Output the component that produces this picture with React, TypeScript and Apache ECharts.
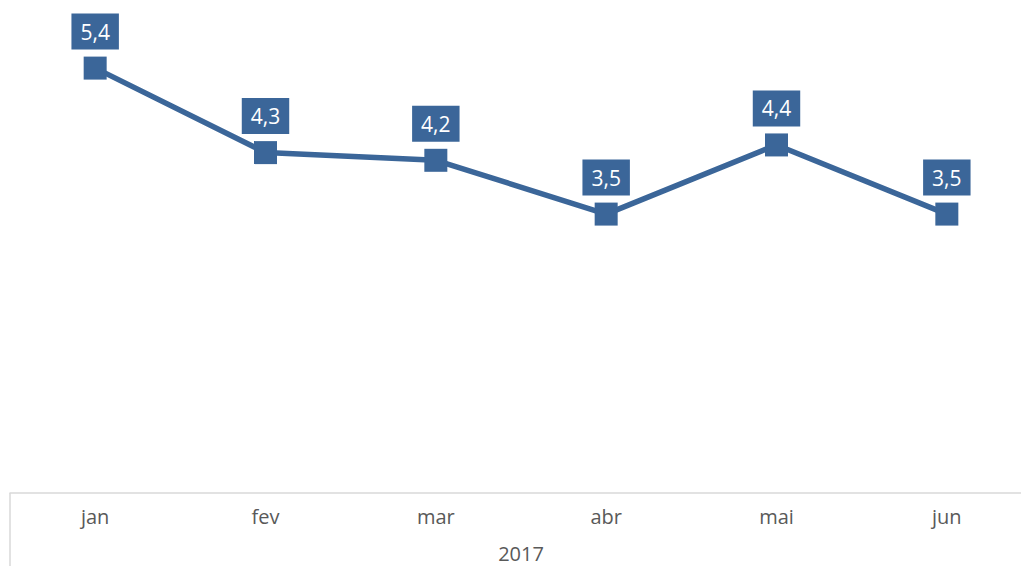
import React, { useEffect, useRef } from "react";
import * as echarts from "echarts";

const months = ["jan", "fev", "mar", "abr", "mai", "jun"];
const yearLabels = ["2017"];
const rates = [5.4, 4.3, 4.2, 3.5, 4.4, 3.5];

const BLUE = "#3B6699";
const FONT = "'Open Sans', 'Noto Sans', sans-serif";

export default function App() {
  const ref = useRef<HTMLDivElement>(null);
  useEffect(() => {
    document.body.style.margin = "0";
    const chart = echarts.init(ref.current!, null, { renderer: "svg" });
    chart.setOption({
      animation: false,
      backgroundColor: "#ffffff",
      grid: { left: 10, top: 22, right: 10, bottom: 73 },
      yAxis: { type: "value", min: -0.13, max: 6, show: false },
      xAxis: [
        {
          type: "category",
          data: months,
          position: "bottom",
          axisLine: { onZero: false, lineStyle: { color: "#d9d9d9", width: 1.5 } },
          axisTick: {
            show: true,
            interval: (i: number) => i === 0,
            length: 75,
            lineStyle: { color: "#d9d9d9", width: 1.5 },
          },
          axisLabel: { color: "#595959", fontSize: 20, fontFamily: FONT, margin: 13 },
          splitLine: { show: false },
        },
        {
          type: "category",
          data: yearLabels,
          position: "bottom",
          offset: 40,
          axisLine: { show: false, onZero: false },
          axisTick: { show: false },
          axisLabel: { color: "#595959", fontSize: 20, fontFamily: FONT, margin: 10 },
        },
      ],
      series: [
        {
          type: "line",
          data: rates,
          xAxisIndex: 0,
          symbol: "rect",
          symbolSize: 23,
          lineStyle: { color: BLUE, width: 5.5 },
          itemStyle: { color: BLUE },
          label: {
            show: true,
            position: "top",
            distance: 7,
            formatter: (p: any) => p.value.toFixed(1).replace(".", ","),
            color: "#ffffff",
            fontSize: 21,
            fontFamily: FONT,
            lineHeight: 26,
            backgroundColor: BLUE,
            padding: [5, 9],
          },
        },
      ],
    });
    return () => chart.dispose();
  }, []);
  return (
    <div style={{ position: "absolute", left: 0, top: 0, width: 1021, height: 566, overflow: "hidden" }}>
      <div ref={ref} style={{ width: 1042, height: 566 }} />
    </div>
  );
}
